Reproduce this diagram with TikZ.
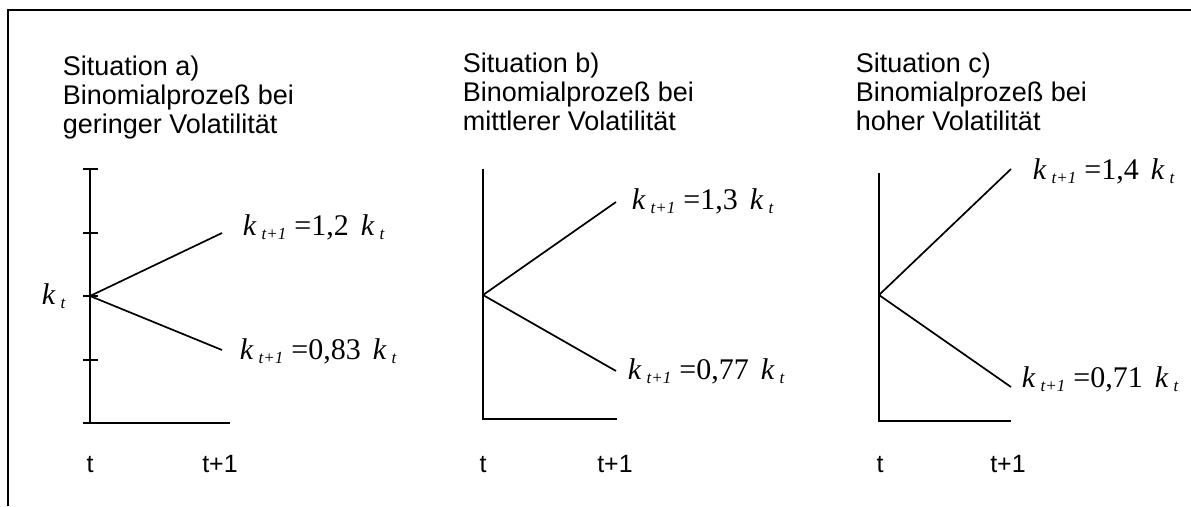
\documentclass[tikz,border=0pt]{standalone}
\usepackage{fontspec}
\setmainfont{Liberation Sans}
\newfontfamily\tnr{Liberation Serif}
\newcommand{\kvar}[1]{\textit{k}\hspace{5pt}\raisebox{-4pt}{\fontsize{17}{17}\selectfont\textit{#1}}}
\newcommand{\klab}[1]{{\tnr\fontsize{30}{30}\selectfont\kvar{t+1}\hspace{8pt}=#1\hspace{12pt}\kvar{t}}}
\begin{document}
\begin{tikzpicture}[x=1pt,y=-1pt,line width=1.8pt,
  head/.style={anchor=base west,inner sep=0,font=\fontsize{27}{29}\selectfont},
  tlab/.style={anchor=base,inner sep=0,font=\fontsize{25}{25}\selectfont},
  klabel/.style={anchor=base west,inner sep=0},
  axisline/.style={line width=1.8pt},
  branch/.style={line width=1.7pt}]
\useasboundingbox (0,0) rectangle (1191,506);
% frame
\coordinate (fbl) at (8,506);
\coordinate (ftl) at (8,10);
\coordinate (ftr) at (1191,10);
\draw[line width=2pt] (fbl) -- (ftl) -- (ftr);

% ---------- panel a ----------
\node[head] (ha1) at (62,75) {Situation a)};
\node[head] (ha2) at (62,104) {Binomialprozeß bei};
\node[head] (ha3) at (62,133) {geringer Volatilität};
\coordinate (atop) at (90,169);
\coordinate (abot) at (90,423);
\coordinate (ahl) at (83,423);
\coordinate (ahr) at (230,423);
\coordinate (a0) at (90,296);
\coordinate (aup) at (222,233);
\coordinate (adn) at (222,350);
\draw[axisline] (atop) -- (abot);
\draw[axisline] (ahl) -- (ahr);
\foreach \yy/\nm in {169/t1,233/t2,296/t3,360/t4}{
  \coordinate (a\nm l) at (83,\yy);
  \coordinate (a\nm r) at (98,\yy);
  \draw[axisline] (a\nm l) -- (a\nm r);
}
\draw[branch] (a0) -- (aup);
\draw[branch] (a0) -- (adn);
\node[anchor=base west,inner sep=0] (akt) at (41,304) {\tnr\fontsize{30}{30}\selectfont\kvar{t}};
\node[klabel] (alu) at (242,235) {\klab{1,2}};
\node[klabel] (ald) at (239,359) {\klab{0,83}};
\node[tlab] (at0) at (90,472) {t};
\node[tlab] (at1) at (220,472) {t+1};

% ---------- panel b ----------
\node[head] (hb1) at (462,72) {Situation b)};
\node[head] (hb2) at (462,101) {Binomialprozeß bei};
\node[head] (hb3) at (462,130) {mittlerer Volatilität};
\coordinate (btop) at (483,169);
\coordinate (bbot) at (483,419);
\coordinate (bhr) at (617,419);
\coordinate (b0) at (483,295);
\coordinate (bup) at (616,202);
\coordinate (bdn) at (616,371);
\draw[axisline] (btop) -- (bbot) -- (bhr);
\draw[branch] (b0) -- (bup);
\draw[branch] (b0) -- (bdn);
\node[klabel] (blu) at (631,209) {\klab{1,3}};
\node[klabel] (bld) at (627,379) {\klab{0,77}};
\node[tlab] (bt0) at (483,472) {t};
\node[tlab] (bt1) at (615,472) {t+1};

% ---------- panel c ----------
\node[head] (hc1) at (855,72) {Situation c)};
\node[head] (hc2) at (855,101) {Binomialprozeß bei};
\node[head] (hc3) at (855,130) {hoher Volatilität};
\coordinate (ctop) at (879,173);
\coordinate (cbot) at (879,421);
\coordinate (chr) at (1011,421);
\coordinate (c0) at (879,295);
\coordinate (cup) at (1011,169);
\coordinate (cdn) at (1011,387);
\draw[axisline] (ctop) -- (cbot) -- (chr);
\draw[branch] (c0) -- (cup);
\draw[branch] (c0) -- (cdn);
\node[klabel] (clu) at (1032,179) {\klab{1,4}};
\node[klabel] (cld) at (1021,387) {\klab{0,71}};
\node[tlab] (ct0) at (880,472) {t};
\node[tlab] (ct1) at (1008,472) {t+1};
\end{tikzpicture}
\end{document}
